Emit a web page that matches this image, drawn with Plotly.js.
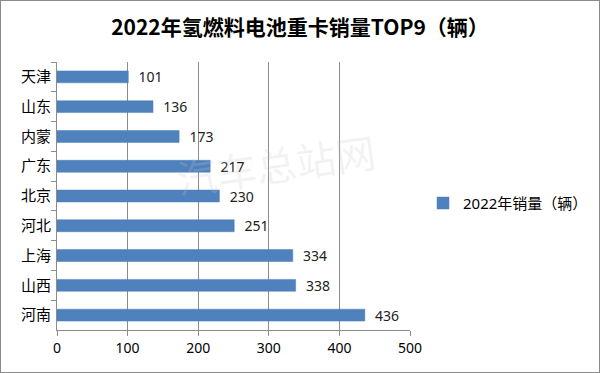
<!DOCTYPE html>
<html><head><meta charset="utf-8">
<script src="https://cdn.plot.ly/plotly-3.0.1.min.js"></script>
<style>
html,body{margin:0;padding:0;background:#fff;}
#wrap{position:relative;width:600px;height:373px;}
#chart{width:600px;height:373px;}
#frame{position:absolute;left:0;top:0;width:598px;height:371px;border:1px solid #8c8c8c;pointer-events:none;}
</style></head>
<body>
<div id="wrap"><div id="chart"></div><div id="frame"></div></div>
<script>
const regions = ["天津","山东","内蒙","广东","北京","河北","上海","山西","河南"];
const sales = [101,136,173,217,230,251,334,338,436];
const xTicks = [0,100,200,300,400,500];
const seriesName = "2022年销量（辆）";
const titleText = "<b>2022年氢燃料电池重卡销量TOP9（辆）</b>";

const font = "'Noto Sans', 'Noto Sans CJK SC', sans-serif";
const trace = {
  type: "bar", orientation: "h",
  x: sales, y: regions, name: seriesName,
  marker: {color: "#4F81BD", line: {color: "#4A7EBB", width: 0.5}},
  text: sales.map(v => "\u00a0\u00a0" + v), textposition: "outside", constraintext: "none",
  textfont: {size: 14, color: "#222", family: font},
  cliponaxis: false, showlegend: true
};
const layout = {
  width: 600, height: 373,
  margin: {l: 57, r: 190, t: 62, b: 43},
  paper_bgcolor: "#fff", plot_bgcolor: "#fff",
  title: {text: titleText, x: 0.5, xanchor: "center", y: 0.925, yanchor: "middle",
          font: {size: 21, color: "#000", family: "'Noto Sans CJK SC', sans-serif"}},
  bargap: 0.6,
  xaxis: {range: [0, 500], tickvals: xTicks, showgrid: true, gridcolor: "#8c8c8c", gridwidth: 1,
          zeroline: false, showline: true, linecolor: "#8c8c8c", ticks: "outside", ticklen: 5,
          tickcolor: "#8c8c8c", tickfont: {size: 14, color: "#000", family: font}, fixedrange: true},
  yaxis: {autorange: "reversed", showline: true, linecolor: "#8c8c8c", ticks: "outside",
          tickson: "boundaries", ticklen: 5, tickcolor: "#8c8c8c", showgrid: false,
          tickfont: {size: 15, color: "#000", family: "'Noto Sans CJK SC', serif"}, ticklabelstandoff: 2},
  showlegend: true,
  legend: {xref: "container", yref: "container", x: 0.705, y: 0.455, xanchor: "left", yanchor: "middle",
           bgcolor: "rgba(0,0,0,0)", font: {size: 15, color: "#000", family: font}, itemwidth: 30},
  annotations: [{text: "汽车总站网", xref: "paper", yref: "paper", x: 0.62, y: 0.62,
                 showarrow: false, textangle: -8, font: {size: 40, color: "rgba(200,200,200,0.22)",
                 family: "'Noto Sans CJK SC', sans-serif"}}]
};
Plotly.newPlot("chart", [trace], layout, {staticPlot: true, displayModeBar: false});
</script>
</body></html>
